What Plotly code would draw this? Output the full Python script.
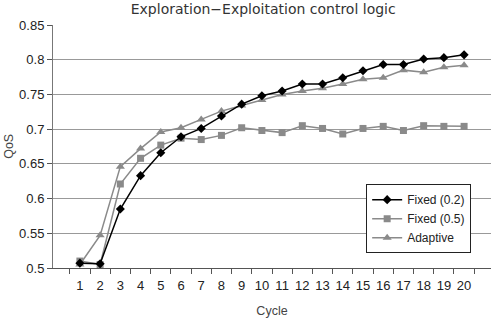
import plotly.graph_objects as go

cycles = [str(i) for i in range(1, 21)]
fixed_02 = [0.507, 0.506, 0.585, 0.633, 0.666, 0.689, 0.701, 0.719, 0.736, 0.748,
            0.755, 0.765, 0.765, 0.774, 0.784, 0.793, 0.793, 0.801, 0.803, 0.807]
fixed_05 = [0.510, 0.505, 0.621, 0.658, 0.677, 0.687, 0.685, 0.691, 0.702, 0.698,
            0.695, 0.705, 0.701, 0.693, 0.701, 0.704, 0.698, 0.705, 0.704, 0.704]
adaptive = [0.505, 0.547, 0.646, 0.672, 0.696, 0.702, 0.714, 0.726, 0.734, 0.742,
            0.750, 0.755, 0.759, 0.765, 0.772, 0.774, 0.785, 0.782, 0.789, 0.792]
y_ticks = [0.5, 0.55, 0.6, 0.65, 0.7, 0.75, 0.8, 0.85]
y_tick_text = ["0.5", "0.55", "0.6", "0.65", "0.7", "0.75", "0.8", "0.85"]

GRAY = "#8a8a8a"
fig = go.Figure()
fig.add_trace(go.Scatter(x=cycles, y=adaptive, name="Adaptive", mode="lines+markers",
                         line=dict(color=GRAY, width=1.5),
                         marker=dict(symbol="triangle-up", size=8, color=GRAY),
                         legendrank=3))
fig.add_trace(go.Scatter(x=cycles, y=fixed_05, name="Fixed (0.5)", mode="lines+markers",
                         line=dict(color=GRAY, width=1.5),
                         marker=dict(symbol="square", size=7, color=GRAY),
                         legendrank=2))
fig.add_trace(go.Scatter(x=cycles, y=fixed_02, name="Fixed (0.2)", mode="lines+markers",
                         line=dict(color="black", width=1.5),
                         marker=dict(symbol="diamond", size=7, color="black"),
                         legendrank=1))

font = "Liberation Sans, Arial, sans-serif"
fig.update_layout(
    width=492, height=318,
    margin=dict(l=53, r=1, t=25, b=50),
    paper_bgcolor="white", plot_bgcolor="white",
    font=dict(family=font, size=13, color="#222"),
    title=dict(text="Exploration\u2212Exploitation control logic", x=0.535, xanchor="center",
               y=0.972, yanchor="middle",
               font=dict(family="DejaVu Sans, sans-serif", size=14, color="#333")),
    legend=dict(x=0.715, y=0.345, xanchor="left", yanchor="top",
                bgcolor="white", bordercolor="#222", borderwidth=1,
                font=dict(size=12, color="#222"), tracegroupgap=0, itemwidth=30),
    showlegend=True,
    annotations=[dict(text="QoS", textangle=-90, xref="paper", yref="paper",
                      x=-0.102, y=0.50, xanchor="center", yanchor="middle",
                      showarrow=False, font=dict(size=12.5, color="#444"))],
)
fig.update_xaxes(type="category", tickson="boundaries", ticks="outside", ticklen=5,
                 tickcolor="#555", showline=True, linecolor="#555", linewidth=1,
                 showgrid=False, tickfont=dict(size=13), tickangle=0, ticklabelstandoff=5,
                 title=dict(text="Cycle", font=dict(size=12.5, color="#444"), standoff=14))
fig.update_yaxes(range=[0.5, 0.85], tickvals=y_ticks, ticktext=y_tick_text,
                 ticks="outside", ticklen=5, tickcolor="#555",
                 showline=True, linecolor="#777", linewidth=1,
                 showgrid=True, gridcolor="#999", gridwidth=1, zeroline=False,
                 tickfont=dict(size=13))
fig.write_html("out.html")
